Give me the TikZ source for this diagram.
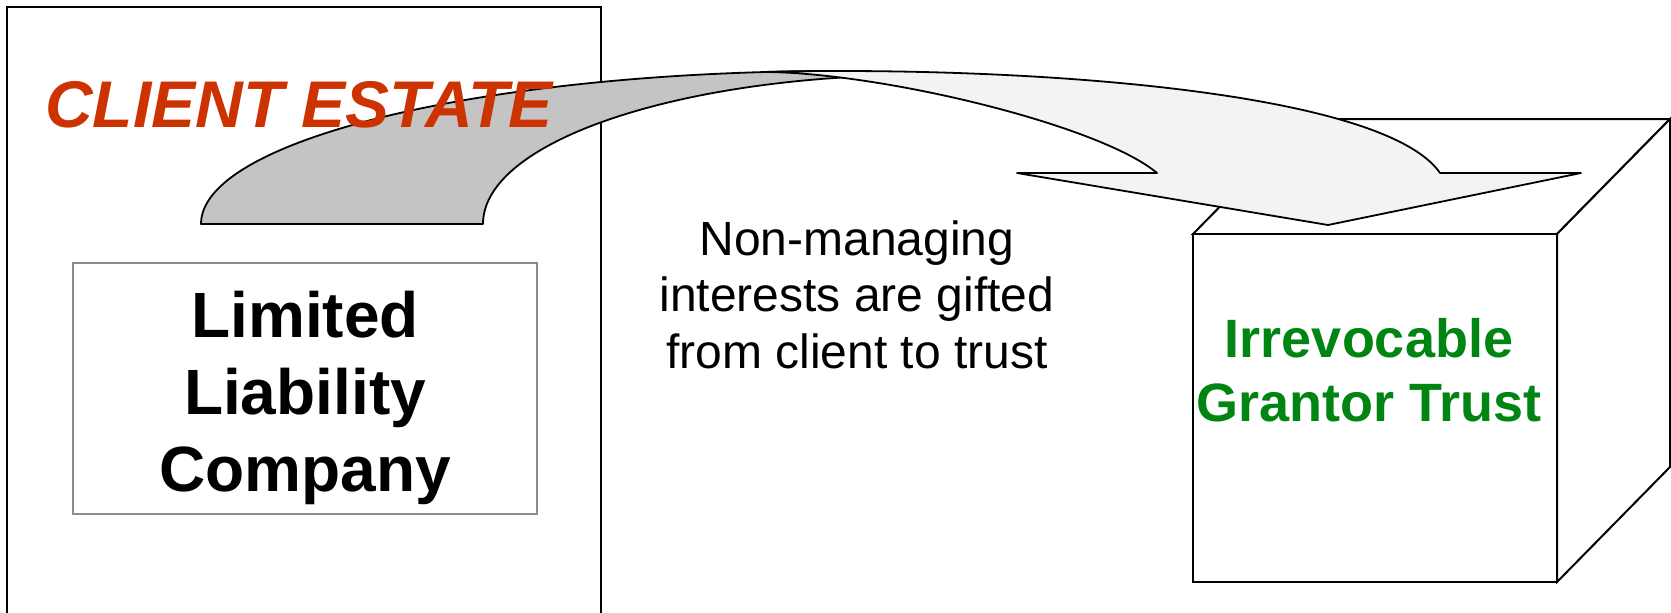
\documentclass[tikz,border=0pt]{standalone}
\usepackage{fontspec}
\setmainfont{Liberation Sans}
\definecolor{estatered}{RGB}{204,51,0}
\definecolor{trustgreen}{RGB}{0,132,18}
\definecolor{ribbonback}{RGB}{196,196,196}
\definecolor{ribbonfront}{RGB}{243,243,241}
\definecolor{framegray}{RGB}{140,140,140}
% centred lines whose baseline is that of the first line
\newcommand{\centrelines}[1]{\vtop{\halign{\hfil##\hfil\cr#1\crcr}}}
\tikzset{
  outline/.style={draw=black, line width=2pt},
  llcframe/.style={draw=framegray, line width=2pt, fill=white, inner sep=0pt},
  cubeface/.style={draw=black, line width=2pt, fill=white, line join=miter},
  ribbon/.style={draw=black, line width=1.8pt, line join=round},
  label/.style={inner sep=0pt, anchor=base},
}
\begin{document}
\begin{tikzpicture}[x=1pt, y=-1pt]
\useasboundingbox (0,0) rectangle (1671,613);
\clip (0,0) rectangle (1671,613);
\fill[white] (0,0) rectangle (1671,613);

% client estate frame, open at the bottom of the page
\node[outline, inner sep=0pt, minimum width=594pt, minimum height=660pt] (estate) at (304,337) {};

% limited liability company
\node[llcframe, minimum width=464pt, minimum height=251pt] (llc) at (305,388.5) {};
\node[label, font=\fontsize{64}{77}\selectfont\bfseries] (llctext) at (305,337)
  {\centrelines{Limited\cr Liability\cr Company}};

% explanation in the middle
\node[label, font=\fontsize{48}{56.5}\selectfont] (gift) at (857,255)
  {\centrelines{Non-managing\cr interests are gifted\cr from client to trust}};

% trust drawn as a box
\coordinate (fTL) at (1193,234);
\coordinate (fTR) at (1557,234);
\coordinate (fBR) at (1557,582);
\coordinate (fBL) at (1193,582);
\coordinate (bTL) at (1306,119);
\coordinate (bTR) at (1670,119);
\coordinate (bBR) at (1670,467);
\draw[cubeface] (fTL) -- (bTL) -- (bTR) -- (fTR) -- cycle;
\draw[cubeface] (fTR) -- (bTR) -- (bBR) -- (fBR) -- cycle;
\draw[cubeface] (fTL) rectangle (fBR);
\node[label, font=\fontsize{54}{64}\selectfont\bfseries, text=trustgreen] (trust) at (1369,357)
  {\centrelines{Irrevocable\cr Grantor Trust}};

% curved arrow from the estate into the trust
\draw[ribbon, fill=ribbonback]
  (201,224) .. controls (201,139.5) and (486.6,71) .. (839,71)
  -- (843.5,77.4) .. controls (640,90) and (483,150) .. (483,224) -- cycle;
\draw[ribbon, fill=ribbonfront]
  (763,72) .. controls (790,71.2) and (815,71) .. (839,71)
  .. controls (1100,71) and (1390,100) .. (1440,173)
  -- (1581,173) -- (1328,225) -- (1017,173) -- (1157,173)
  .. controls (1100,125) and (880,72) .. (763,72) -- cycle;

% heading
\node[label, anchor=base west, font=\fontsize{66}{77}\selectfont\bfseries\itshape, text=estatered] (heading) at (45,127) {CLIENT ESTATE};
\end{tikzpicture}
\end{document}
